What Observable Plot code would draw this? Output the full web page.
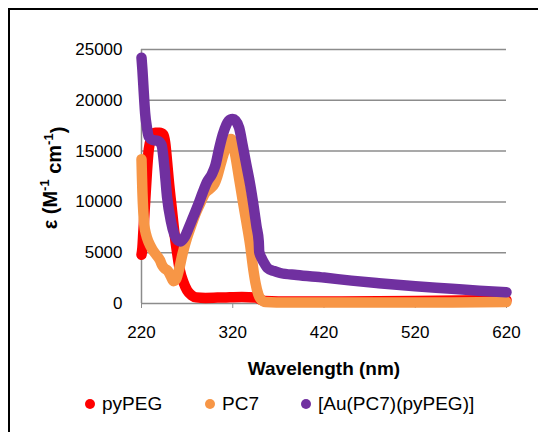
<!DOCTYPE html>
<html>
<head>
<meta charset="utf-8">
<script src="https://cdn.jsdelivr.net/npm/d3@7"></script>
<script src="https://cdn.jsdelivr.net/npm/@observablehq/plot@0.6"></script>
<style>
  html, body { margin: 0; padding: 0; background: #fff; overflow: hidden; }
  body { width: 538px; height: 432px; position: relative; font-family: "Liberation Sans", Arial, sans-serif; }
  #frame { position: absolute; left: 8px; top: 8px; width: 620px; height: 520px; border: 2px solid #000; box-sizing: border-box; }
  #chart { position: absolute; left: 0; top: 0; }
  .leg { position: absolute; top: 392px; height: 24px; display: flex; align-items: center; font-size: 19px; color: #000; white-space: nowrap; }
  .leg i { display: inline-block; width: 10px; height: 10px; border-radius: 50%; margin-right: 7px; }
</style>
</head>
<body>
<div id="frame"></div>
<div id="chart"></div>
<div class="leg" style="left:85px"><i style="background:#FF0000"></i>pyPEG</div>
<div class="leg" style="left:205px"><i style="background:#F79646"></i>PC7</div>
<div class="leg" style="left:301px"><i style="background:#7030A0"></i>[Au(PC7)(pyPEG)]</div>
<script>
const xTicks = [220, 320, 420, 520, 620];
const yTicks = [0, 5000, 10000, 15000, 20000, 25000];
const seriesNames = ["pyPEG", "PC7", "[Au(PC7)(pyPEG)]"];
const seriesColors = ["#FF0000", "#F79646", "#7030A0"];

// pyPEG: [wavelength nm, epsilon]
const pyPEG = [[220,4800],[221,5500],[222,7000],[224,10000],[226,13000],[228,15200],[231,16300],[235,16800],[240,16800],[244,16600],[246,15800],[248,14000],[250,12000],[253,9500],[256,7000],[259,5000],[262,3300],[266,2100],[270,1300],[275,800],[280,600],[290,550],[310,600],[330,650],[345,600],[350,400],[355,250],[370,200],[420,200],[520,250],[620,350]];
// PC7
const PC7 = [[220,14200],[220.5,12500],[221,11000],[222,9000],[223,7800],[225,6800],[228,6000],[232,5300],[236,4800],[240,4300],[243,3700],[246,3400],[249,3200],[252,2700],[255,2200],[258,2400],[261,3300],[265,4900],[270,6500],[275,7800],[280,9000],[285,10000],[290,10900],[295,11300],[300,11800],[303,12500],[307,13800],[311,15000],[315,15900],[318,16200],[320,15800],[323,14500],[327,12300],[331,10100],[335,8000],[339,5800],[342,3700],[345,2000],[348,900],[351,400],[356,150],[380,100],[450,100],[550,100],[620,150]];
// [Au(PC7)(pyPEG)]
const AuComplex = [[220,24200],[221,23000],[222,21500],[223,20000],[224,18700],[226,17300],[228,16400],[232,16100],[238,16000],[242,15600],[245,13500],[248,10500],[252,8200],[256,6800],[260,6200],[263,6100],[267,6500],[272,7500],[277,8600],[282,9700],[287,10900],[292,12000],[297,12700],[301,13600],[305,15200],[309,16600],[313,17600],[317,18100],[320,18150],[323,18000],[327,17300],[331,15500],[335,13600],[339,11750],[343,9500],[346,7600],[348.5,6100],[349,5100],[352,4400],[355,3900],[358,3500],[365,3200],[372,3000],[390,2800],[420,2550],[450,2250],[480,2000],[520,1700],[560,1450],[590,1250],[620,1100]];

const toRows = (arr, name) => arr.map(([w, e]) => ({w, e, name}));
const allSeries = [pyPEG, PC7, AuComplex];

const lineMarks = allSeries.map((s, i) => Plot.line(toRows(s, seriesNames[i]), {
  x: "w", y: "e", stroke: seriesColors[i], strokeWidth: 10.5,
  strokeLinecap: "round", strokeLinejoin: "round", curve: "monotone-x"
}));

const plot = Plot.plot({
  width: 538,
  height: 432,
  marginTop: 49,
  marginBottom: 129,
  marginLeft: 141,
  marginRight: 32,
  style: { fontFamily: "'Liberation Sans', Arial, sans-serif", fontSize: "17px", color: "#000", background: "transparent", overflow: "visible" },
  x: { domain: [220, 620] },
  y: { domain: [0, 25000] },
  marks: [
    Plot.ruleY(yTicks.filter(d => d > 0), { stroke: "#8C8C8C", strokeWidth: 1.5 }),
    Plot.ruleY([0], { stroke: "#8C8C8C", strokeWidth: 1.5 }),
    Plot.ruleX([220], { y1: 0, y2: 25000, stroke: "#8C8C8C", strokeWidth: 1.5 }),
    Plot.axisX({ ticks: xTicks, tickSize: 5, tickPadding: 17, stroke: "#8C8C8C", fill: "#000", label: null, tickFormat: d => String(d) }),
    Plot.axisY({ ticks: yTicks, tickSize: 0, tickPadding: 19, fill: "#000", label: null, tickFormat: d => String(d) }),
    ...lineMarks,
    Plot.text(["Wavelength (nm)"], { frameAnchor: "bottom", dy: 65, lineAnchor: "middle", fontSize: 19, fontWeight: "bold", fill: "#000" })
  ]
});

document.getElementById("chart").appendChild(plot);

// rotated y-axis title with superscripts
const svg = d3.select(plot);
const t = svg.append("text")
  .attr("transform", "translate(50,178) rotate(-90)")
  .attr("text-anchor", "middle")
  .attr("dy", "0.35em")
  .attr("font-size", 20)
  .attr("font-weight", "bold")
  .attr("fill", "#000");
t.append("tspan").text("ε (M");
t.append("tspan").attr("font-size", 13).attr("dy", "-0.6em").text("-1");
t.append("tspan").attr("dy", "0.6em").text(" cm");
t.append("tspan").attr("font-size", 13).attr("dy", "-0.6em").text("-1");
t.append("tspan").attr("dy", "0.6em").text(")");
</script>
</body>
</html>
